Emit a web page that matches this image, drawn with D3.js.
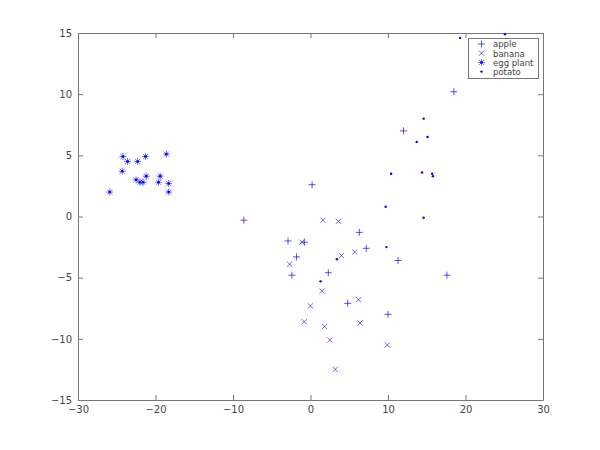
<!DOCTYPE html>
<html>
<head>
<meta charset="utf-8">
<script src="https://cdn.jsdelivr.net/npm/d3@7"></script>
<style>
	body { margin: 0; background: #fff; }
	text { font-family: "DejaVu Sans", sans-serif; }
</style>
</head>
<body>
<div id="chart"></div>
<script>
// data
let apple_x = [0.2, -8.6, -2.9, -0.8, -1.8, -2.4, 2.3, 6.3, 7.2, 4.8, 10.0, 12.0, 18.5, 11.3, 17.6];
let apple_y = [2.6, -0.3, -2.0, -2.1, -3.3, -4.8, -4.6, -1.3, -2.6, -7.1, -8.0, 7.0, 10.2, -3.6, -4.8];

let banana_x = [-1.1, 1.6, 3.6, -2.7, 4.0, 5.7, 1.5, 0.0, -0.8, 1.8, 2.5, 3.2, 6.2, 6.4, 9.9];
let banana_y = [-2.1, -0.3, -0.4, -3.9, -3.2, -2.9, -6.1, -7.3, -8.6, -9.0, -10.1, -12.5, -6.8, -8.7, -10.5];

let eggplant_x = [-24.2, -23.6, -22.3, -21.3, -18.6, -24.3, -22.5, -22.0, -21.6, -21.2, -19.4, -19.6, -18.3, -18.3, -25.9];
let eggplant_y = [4.9, 4.5, 4.5, 4.9, 5.1, 3.7, 3.0, 2.8, 2.8, 3.3, 3.3, 2.8, 2.7, 2.0, 2.0];

let potato_x = [9.7, 9.8, 3.4, 1.3, 19.3, 25.1, 14.6, 15.1, 13.7, 10.4, 14.4, 15.7, 15.8, 14.6];
let potato_y = [0.8, -2.5, -3.5, -5.3, 14.6, 14.9, 8.0, 6.5, 6.1, 3.5, 3.6, 3.5, 3.3, -0.1];

let series_names = ["apple", "banana", "egg plant", "potato"];
let x_ticks = [-30, -20, -10, 0, 10, 20, 30];
let y_ticks = [-15, -10, -5, 0, 5, 10, 15];

let width = 600;
let height = 450;
let margin = { top: 33, right: 57, bottom: 50, left: 78 };
let blue = "#0000ff";
let axis_color = "#777";

let svg = d3.select("#chart")
	.append("svg")
	.attr("width", width)
	.attr("height", height);

let x = d3.scaleLinear()
	.domain([-30, 30])
	.range([margin.left, width - margin.right]);

let y = d3.scaleLinear()
	.domain([-15, 15])
	.range([height - margin.bottom, margin.top]);

// axes: ticks on all four sides, pointing inwards
function style_axis(g) {
	g.selectAll(".domain").attr("stroke", axis_color);
	g.selectAll(".tick line").attr("stroke", axis_color);
	g.selectAll(".tick text").attr("fill", "#444").style("font-size", "10px");
}

svg.append("g")
	.attr("transform", "translate(0," + (height - margin.bottom) + ")")
	.call(d3.axisBottom(x).tickValues(x_ticks).tickSize(-5).tickSizeOuter(0).tickPadding(6))
	.call(style_axis);

svg.append("g")
	.attr("transform", "translate(" + margin.left + ",0)")
	.call(d3.axisLeft(y).tickValues(y_ticks).tickSize(-5).tickSizeOuter(0).tickPadding(6))
	.call(style_axis);

svg.append("g")
	.attr("transform", "translate(0," + margin.top + ")")
	.call(d3.axisTop(x).tickValues(x_ticks).tickSize(-5).tickSizeOuter(0).tickFormat(""))
	.call(style_axis);

svg.append("g")
	.attr("transform", "translate(" + (width - margin.right) + ",0)")
	.call(d3.axisRight(y).tickValues(y_ticks).tickSize(-5).tickSizeOuter(0).tickFormat(""))
	.call(style_axis);

// marker shapes
function plus_path(s) {
	return "M" + (-s) + ",0H" + s + "M0," + (-s) + "V" + s;
}
function cross_path(s) {
	return "M" + (-s) + "," + (-s) + "L" + s + "," + s + "M" + (-s) + "," + s + "L" + s + "," + (-s);
}
function star_path(s) {
	let d = s * 0.72;
	return plus_path(s) + "M" + (-d) + "," + (-d) + "L" + d + "," + d + "M" + (-d) + "," + d + "L" + d + "," + (-d);
}

function draw_marker(g, kind) {
	if (kind === 0) {
		g.append("path").attr("d", plus_path(3.5)).attr("stroke", blue).attr("stroke-width", 0.9).attr("fill", "none").attr("opacity", 0.75);
	} else if (kind === 1) {
		g.append("path").attr("d", cross_path(2.6)).attr("stroke", blue).attr("stroke-width", 0.9).attr("fill", "none").attr("opacity", 0.65);
	} else if (kind === 2) {
		g.append("path").attr("d", star_path(3.5)).attr("stroke", blue).attr("stroke-width", 0.8).attr("fill", "none").attr("opacity", 0.7);
		g.append("circle").attr("r", 1.3).attr("fill", blue);
	} else {
		g.append("circle").attr("r", 1.2).attr("fill", blue);
	}
}

let series = [
	[apple_x, apple_y],
	[banana_x, banana_y],
	[eggplant_x, eggplant_y],
	[potato_x, potato_y]
];

series.forEach((s, k) => {
	let pts = s[0].map((v, i) => ({ x: v, y: s[1][i] }));
	svg.append("g")
		.selectAll("g")
		.data(pts)
		.enter()
		.append("g")
		.attr("transform", d => "translate(" + x(d.x) + "," + y(d.y) + ")")
		.each(function() { draw_marker(d3.select(this), k); });
});

// legend
let legend = svg.append("g").attr("transform", "translate(468.5,38.5)");

legend.append("rect")
	.attr("width", 70)
	.attr("height", 40)
	.attr("fill", "#fff")
	.attr("stroke", axis_color);

let item = legend.selectAll(".item")
	.data(series_names)
	.enter()
	.append("g")
	.attr("class", "item")
	.attr("transform", (d, i) => "translate(13," + (5.5 + i * 9.2) + ")");

item.each(function(d, i) { draw_marker(d3.select(this), i); });

item.append("text")
	.attr("x", 11.5)
	.attr("y", 3.3)
	.attr("fill", "#444")
	.style("font-size", "8.5px")
	.text(d => d);
</script>
</body>
</html>
